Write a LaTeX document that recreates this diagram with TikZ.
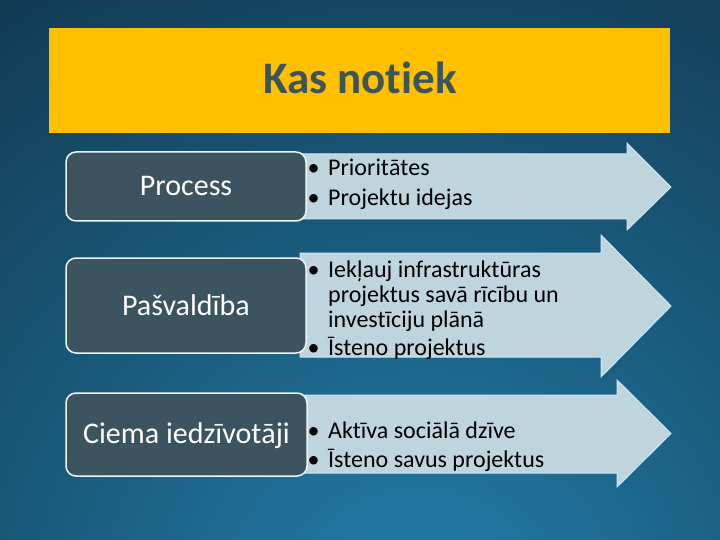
\documentclass[tikz,border=0pt]{standalone}
\usepackage{fontspec}
\setmainfont{Carlito}[Ligatures={NoCommon,NoContextual}]
\definecolor{bgDark}{RGB}{17,55,79}
\definecolor{bgLight}{RGB}{34,126,170}
\definecolor{titleYellow}{RGB}{255,192,0}
\definecolor{titleText}{RGB}{60,84,90}
\definecolor{boxFill}{RGB}{60,84,96}
\definecolor{boxLine}{RGB}{236,246,250}
\definecolor{arrowFill}{RGB}{190,213,222}
\definecolor{arrowLine}{RGB}{208,230,240}
\newcommand\bulitem{\makebox[20.5pt][l]{•}}
\newcommand\nolig{\kern0pt}
\begin{document}
\begin{tikzpicture}[x=1pt,y=1pt,
 labelbox/.style={draw=boxLine, line width=1.5pt, fill=boxFill, rounded corners=10pt, minimum width=240pt, inner sep=0pt},
 labeltext/.style={text=white, font=\fontsize{30}{36}\selectfont, anchor=base, inner sep=0pt},
 arrowshape/.style={fill=arrowFill, draw=arrowLine, line width=1pt, line join=miter},
 bullettext/.style={text=black, font=\fontsize{24}{29}\selectfont, anchor=base west, inner sep=0pt}]
\useasboundingbox (0,0) rectangle (720,-540);
\begin{scope}
\clip (0,0) rectangle (720,-540);
\fill[bgDark] (0,0) rectangle (720,-540);
\shade[inner color=bgLight, outer color=bgDark] (420,-620) circle (780);
\end{scope}
% title
\node[fill=titleYellow, minimum width=621pt, minimum height=105pt, inner sep=0pt, anchor=north west] (titlebox) at (49,-28) {};
\node[font=\bfseries\fontsize{45}{54}\selectfont, text=titleText, anchor=base, inner sep=0pt] (title) at (360,-94) {Kas not\nolig iek};
% arrows
\draw[arrowshape] (300,-154) -- (627,-154) -- (627,-143) -- (671,-187) -- (627,-230) -- (627,-219) -- (300,-219) -- cycle;
\draw[arrowshape] (300,-253) -- (601,-253) -- (601,-235) -- (671,-306) -- (601,-377) -- (601,-357) -- (300,-357) -- cycle;
\draw[arrowshape] (300,-395) -- (617,-395) -- (617,-380) -- (671,-433.5) -- (617,-487) -- (617,-473) -- (300,-473) -- cycle;
% label boxes
\node[labelbox, minimum height=69pt] (b1) at (186,-186.5) {};
\node[labelbox, minimum height=95pt] (b2) at (186,-305.5) {};
\node[labelbox, minimum height=83pt, minimum width=241pt] (b3) at (186.5,-434.5) {};
\node[labeltext] (l1) at (186,-196) {Process};
\node[labeltext] (l2) at (186,-315) {Pašvaldība};
\node[labeltext] (l3) at (186.5,-443) {Ciema iedzīvot\nolig āji};
% bullets
\node[bullettext] (t11) at (307.5,-176) {\bulitem Priorit\nolig āt\nolig es};
\node[bullettext] (t12) at (307.5,-206) {\bulitem Projektu idejas};
\node[bullettext] (t21) at (307.5,-277) {\bulitem Iekļauj infrastruktūras};
\node[bullettext] (t22) at (328,-302) {projektus savā rīcību un};
\node[bullettext] (t23) at (328,-327) {invest\nolig īciju plānā};
\node[bullettext] (t24) at (307.5,-355) {\bulitem Īsteno projektus};
\node[bullettext] (t31) at (307.5,-438) {\bulitem Akt\nolig īva sociālā dzīve};
\node[bullettext] (t32) at (307.5,-467) {\bulitem Īsteno savus projektus};
\end{tikzpicture}
\end{document}
